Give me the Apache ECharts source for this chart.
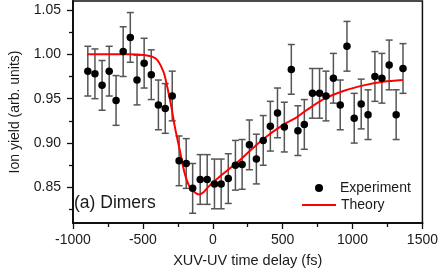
<!DOCTYPE html>
<html><head><meta charset="utf-8">
<script src="https://cdn.jsdelivr.net/npm/echarts@6/dist/echarts.min.js"></script>
<style>html,body{margin:0;padding:0;background:#fff}#c{width:441px;height:273px}</style>
</head><body><div id="c"></div>
<script>
const delays = [-894, -843, -792, -741, -692, -641, -590, -542, -491, -440, -389, -340, -290, -241, -190, -144, -90, -40, 12, 60, 111, 162, 210, 262, 312, 361, 412, 463, 512, 562, 609, 655, 713, 764, 810, 863, 912, 960, 1012, 1062, 1111, 1160, 1210, 1262, 1312, 1361];
const ionYield = [0.981, 0.978, 0.965, 0.981, 0.948, 1.003, 1.019, 0.971, 0.990, 0.977, 0.943, 0.939, 0.953, 0.880, 0.877, 0.849, 0.859, 0.859, 0.854, 0.854, 0.860, 0.875, 0.876, 0.898, 0.882, 0.903, 0.919, 0.934, 0.918, 0.983, 0.914, 0.921, 0.956, 0.956, 0.953, 0.973, 0.943, 1.009, 0.928, 0.944, 0.932, 0.975, 0.973, 0.988, 0.932, 0.984];
const yieldErr = [0.028, 0.028, 0.028, 0.028, 0.028, 0.028, 0.028, 0.028, 0.028, 0.028, 0.028, 0.028, 0.028, 0.028, 0.028, 0.028, 0.028, 0.028, 0.028, 0.028, 0.028, 0.028, 0.028, 0.028, 0.028, 0.028, 0.028, 0.028, 0.028, 0.028, 0.028, 0.028, 0.028, 0.028, 0.028, 0.028, 0.028, 0.028, 0.028, 0.028, 0.028, 0.028, 0.028, 0.028, 0.028, 0.028];
const theoryDelay = [-900, -600, -480, -430, -394, -352, -324, -299, -271, -236, -201, -167, -132, -99, -64, -30, 40, 110, 180, 250, 320, 390, 460, 530, 600, 670, 800, 940, 1080, 1220, 1360];
const theoryYield = [1.000, 1.000, 0.999, 0.997, 0.993, 0.980, 0.962, 0.943, 0.918, 0.892, 0.866, 0.851, 0.845, 0.842, 0.845, 0.851, 0.861, 0.870, 0.879, 0.889, 0.899, 0.908, 0.916, 0.923, 0.929, 0.937, 0.950, 0.959, 0.965, 0.969, 0.971];
const yMajorTicks = [0.85, 0.90, 0.95, 1.00, 1.05];
const yMinorTicks = [0.825, 0.875, 0.925, 0.975, 1.025];

const FONT = 'Liberation Sans, Arial, Helvetica, sans-serif';
const TXT = '#1a1a1a';
const chart = echarts.init(document.getElementById('c'), null, {renderer: 'canvas'});
const expData = delays.map((d, i) => [d, ionYield[i], yieldErr[i]]);
const theoryData = theoryDelay.map((d, i) => [d, theoryYield[i]]);

chart.setOption({
  animation: false,
  backgroundColor: '#fff',
  grid: {left: 65, top: 1, width: 360, height: 227, show: true, borderColor: '#111', borderWidth: 1.5, backgroundColor: 'transparent'},
  xAxis: {
    type: 'value', min: -1000, max: 1500, interval: 500,
    name: 'XUV-UV time delay (fs)', nameLocation: 'middle', nameGap: 30,
    nameTextStyle: {fontFamily: FONT, fontSize: 14.5, color: TXT},
    axisLine: {show: true, onZero: false, lineStyle: {color: '#111', width: 2}},
    axisTick: {show: true, length: 6, lineStyle: {color: '#111', width: 1.3}},
    minorTick: {show: true, splitNumber: 2, length: 4, lineStyle: {color: '#111', width: 1.3}},
    axisLabel: {fontFamily: FONT, fontSize: 14, color: TXT, margin: 10, formatter: v => String(v)},
    splitLine: {show: false}
  },
  yAxis: [{
    type: 'value', min: 0.81, max: 1.06,
    name: 'Ion yield (arb. units)', nameLocation: 'middle', nameGap: 51,
    nameTextStyle: {fontFamily: FONT, fontSize: 14, color: TXT},
    axisLine: {show: true, onZero: false, lineStyle: {color: '#111', width: 2}},
    axisTick: {show: true, length: 6, customValues: yMajorTicks, lineStyle: {color: '#111', width: 1.3}},
    axisLabel: {fontFamily: FONT, fontSize: 14, color: TXT, margin: 12, customValues: yMajorTicks, formatter: v => v.toFixed(2)},
    splitLine: {show: false}
  }, {
    type: 'value', min: 0.81, max: 1.06, position: 'left',
    axisLine: {show: false, onZero: false},
    axisTick: {show: true, length: 4, customValues: yMinorTicks, lineStyle: {color: '#111', width: 1.3}},
    axisLabel: {show: false},
    splitLine: {show: false}
  }],
  legend: [{
    orient: 'vertical', left: 315, top: 180, itemWidth: 8, itemHeight: 8, itemGap: 0, padding: 0,
    data: [{name: 'Experiment', icon: 'circle'}],
    textStyle: {fontFamily: FONT, fontSize: 14, color: TXT, lineHeight: 16, padding: [0, 0, 0, 12]}
  }, {
    orient: 'vertical', left: 302, top: 197, itemWidth: 34, itemHeight: 2, itemGap: 0, padding: 0,
    data: [{name: 'Theory', icon: 'rect'}],
    textStyle: {fontFamily: FONT, fontSize: 14, color: TXT, lineHeight: 16}
  }],
  graphic: [{
    type: 'text', left: 74, top: 194,
    style: {text: '(a) Dimers', font: '17.5px ' + FONT, fill: TXT}
  }],
  series: [{
    name: 'errors', type: 'custom', z: 1,
    data: expData,
    encode: {x: 0, y: 1},
    renderItem: function (params, api) {
      const x = api.value(0), y = api.value(1), e = api.value(2);
      const t = api.coord([x, y + e]);
      const b = api.coord([x, y - e]);
      const c = 3.5;
      const st = {stroke: '#555', lineWidth: 1.5};
      return {type: 'group', children: [
        {type: 'line', shape: {x1: t[0], y1: t[1], x2: b[0], y2: b[1]}, style: st},
        {type: 'line', shape: {x1: t[0] - c, y1: t[1], x2: t[0] + c, y2: t[1]}, style: st},
        {type: 'line', shape: {x1: b[0] - c, y1: b[1], x2: b[0] + c, y2: b[1]}, style: st}
      ]};
    }
  }, {
    name: 'Theory', type: 'line', z: 2, smooth: 0.3, showSymbol: false, symbol: 'none',
    data: theoryData,
    lineStyle: {color: '#ff0000', width: 2},
    itemStyle: {color: '#ff0000'}
  }, {
    name: 'Experiment', type: 'scatter', z: 3, symbol: 'circle', symbolSize: 7.5,
    data: expData.map(p => [p[0], p[1]]),
    itemStyle: {color: '#000', opacity: 1}
  }]
});
</script></body></html>
